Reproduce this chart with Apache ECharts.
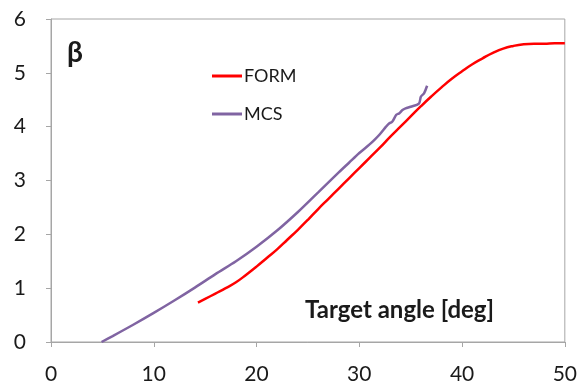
<!DOCTYPE html>
<html>
<head>
<meta charset="utf-8">
<script src="https://cdn.jsdelivr.net/npm/echarts@6/dist/echarts.min.js"></script>
<style>html,body{margin:0;padding:0;background:#fff}#c{width:580px;height:389px}</style>
</head>
<body>
<div id="c"></div>
<script>
const xTicks = [0, 10, 20, 30, 40, 50];
const yTicks = [0, 1, 2, 3, 4, 5, 6];
const formX = [14.3, 15, 16, 17, 18, 19, 20, 21, 22, 23, 24, 25, 26, 27, 28, 29, 30, 31, 32, 33, 34, 35, 36, 37, 38, 39, 40, 41, 42, 43, 44, 45, 46, 47, 48, 49, 50];
const formY = [0.73, 0.8, 0.9, 1.0, 1.11, 1.25, 1.4, 1.56, 1.72, 1.9, 2.08, 2.27, 2.47, 2.66, 2.85, 3.04, 3.23, 3.42, 3.61, 3.81, 4.0, 4.19, 4.38, 4.56, 4.73, 4.89, 5.03, 5.16, 5.27, 5.37, 5.45, 5.5, 5.53, 5.54, 5.54, 5.55, 5.55];
const mcsX = [4.92, 6, 8, 10, 12, 14, 16, 18, 20, 22, 24, 26, 28, 29, 30, 31, 31.5, 32, 32.6, 32.9, 33.2, 33.6, 33.9, 34.2, 34.5, 35.0, 35.8, 36.0, 36.3, 36.6];
const mcsY = [0, 0.11, 0.32, 0.54, 0.77, 1.01, 1.26, 1.5, 1.77, 2.07, 2.41, 2.78, 3.15, 3.33, 3.51, 3.67, 3.76, 3.86, 4.0, 4.06, 4.09, 4.22, 4.25, 4.31, 4.34, 4.37, 4.43, 4.56, 4.62, 4.76];
const seriesNames = ['FORM', 'MCS'];
const yLabel = 'β';
const xLabel = 'Target angle [deg]';

const font = 'Lato, "Open Sans", sans-serif';
const chart = echarts.init(document.getElementById('c'));
chart.setOption({
  animation: false,
  backgroundColor: '#fff',
  grid: { left: 51, right: 14, top: 19, bottom: 47, show: true, borderColor: '#a6a6a6', borderWidth: 1 },
  title: [
    { text: yLabel, left: 62, top: 34, textStyle: { fontFamily: font, fontSize: 28, fontWeight: 'bold', color: '#1a1a1a' } },
    { text: xLabel, left: 300, top: 293, textStyle: { fontFamily: font, fontSize: 24, fontWeight: 'bold', color: '#1a1a1a' } }
  ],
  legend: {
    orient: 'vertical', left: 207, top: 62, itemWidth: 30, itemHeight: 3, itemGap: 20,
    textStyle: { fontFamily: font, fontSize: 18, color: '#1a1a1a', padding: [0, 0, 0, -3] },
    data: seriesNames.map(n => ({ name: n, icon: 'rect' }))
  },
  xAxis: {
    type: 'value', min: xTicks[0], max: xTicks[xTicks.length - 1], interval: 10,
    axisLine: { lineStyle: { color: '#a6a6a6' } },
    axisTick: { length: 5, lineStyle: { color: '#a6a6a6' } },
    splitLine: { show: false },
    axisLabel: { fontFamily: font, fontSize: 21, color: '#1a1a1a', margin: 22 }
  },
  yAxis: {
    type: 'value', min: yTicks[0], max: yTicks[yTicks.length - 1], interval: 1,
    axisLine: { show: true, lineStyle: { color: '#a6a6a6' } },
    axisTick: { show: true, length: 5, lineStyle: { color: '#a6a6a6' } },
    splitLine: { show: false },
    axisLabel: { fontFamily: font, fontSize: 21, color: '#1a1a1a', margin: 25 }
  },
  series: [
    { name: seriesNames[0], type: 'line', symbol: 'none', smooth: 0.5, color: '#ff0000', lineStyle: { width: 2.5 },
      data: formX.map((x, i) => [x, formY[i]]) },
    { name: seriesNames[1], type: 'line', symbol: 'none', smooth: 0.3, color: '#8064a2', lineStyle: { width: 2.5 },
      data: mcsX.map((x, i) => [x, mcsY[i]]) }
  ]
});
</script>
</body>
</html>
